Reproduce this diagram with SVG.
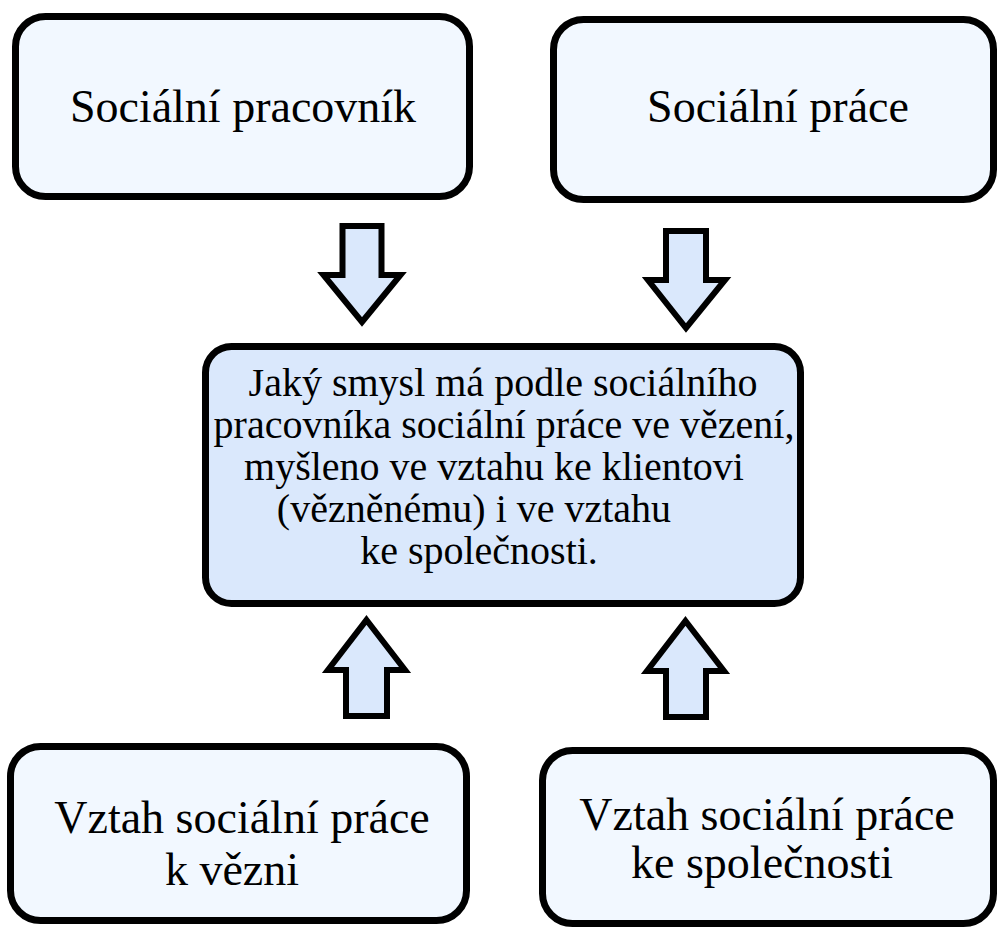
<svg xmlns="http://www.w3.org/2000/svg" width="998" height="927" viewBox="0 0 998 927">
<style>
.box{fill:#f2f8ff;stroke:#000;stroke-width:7}
.mid{fill:#dae8fc;stroke:#000;stroke-width:7}
.arr{fill:#dae8fc;stroke:#000;stroke-width:6;stroke-linejoin:miter}
.t{font-family:"Liberation Serif","Times New Roman",serif;fill:#000;font-size:46px}
.c{font-family:"Liberation Serif","Times New Roman",serif;fill:#000;font-size:40px}
</style>
<rect width="998" height="927" fill="#fff"/>
<g id="n1">
<rect class="box" x="15.5" y="16.5" width="454" height="180" rx="30"/>
<text class="t" x="243" y="122" text-anchor="middle">Sociální pracovník</text>
</g>
<g id="n2">
<rect class="box" x="553.5" y="19.5" width="440" height="180" rx="30"/>
<text class="t" x="778" y="122" text-anchor="middle">Sociální práce</text>
</g>
<g id="n3">
<rect class="mid" x="205.5" y="346.5" width="595" height="257" rx="26"/>
<text class="c" x="503" y="396" text-anchor="middle">Jaký smysl má podle sociálního</text>
<text class="c" x="504" y="438" text-anchor="middle">pracovníka sociální práce ve vězení,</text>
<text class="c" x="494" y="480" text-anchor="middle">myšleno ve vztahu ke klientovi</text>
<text class="c" x="474" y="522" text-anchor="middle">(vězněnému) i ve vztahu</text>
<text class="c" x="479" y="564" text-anchor="middle">ke společnosti.</text>
</g>
<g id="n4">
<rect class="box" x="10.5" y="746.5" width="456" height="174" rx="30"/>
<text class="t" x="242" y="833" text-anchor="middle">Vztah sociální práce</text>
<text class="t" x="232" y="885" text-anchor="middle">k vězni</text>
</g>
<g id="n5">
<rect class="box" x="542.5" y="750.5" width="451" height="173" rx="30"/>
<text class="t" x="767" y="830" text-anchor="middle">Vztah sociální práce</text>
<text class="t" x="762" y="878" text-anchor="middle">ke společnosti</text>
</g>
<g id="connectors">
<polygon class="arr" points="342.5,226 381.5,226 381.5,275 400.5,275 362,322 323.5,275 342.5,275"/>
<polygon class="arr" points="666,231 706,231 706,280 725,280 686,328 648,280 666,280"/>
<polygon class="arr" points="366.5,620 405,670 387,670 387,716 346,716 346,670 328,670"/>
<polygon class="arr" points="685.5,621 724,671 706,671 706,717 666,717 666,671 647,671"/>
</g>
</svg>
